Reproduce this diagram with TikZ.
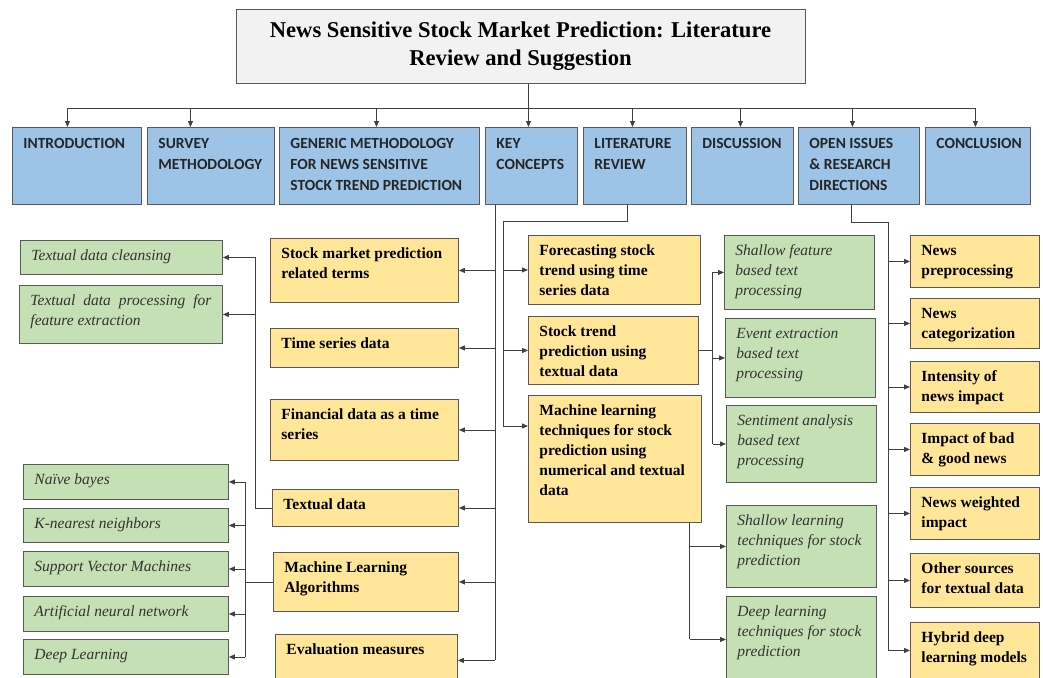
\documentclass[tikz,border=0pt]{standalone}
\usepackage{fontspec}
\setmainfont{Liberation Serif}
\newfontfamily\hdrfont{Carlito}
\usetikzlibrary{arrows.meta}

\definecolor{hdrBlue}{HTML}{9DC3E6}
\definecolor{topicYellow}{HTML}{FFE699}
\definecolor{leafGreen}{HTML}{C5E0B4}
\definecolor{titleGray}{HTML}{F2F2F2}
\definecolor{edgeGray}{HTML}{595959}
\definecolor{lineGray}{HTML}{404040}

% box content: width, height, text (top-left aligned)
\newcommand{\boxtext}[3]{\parbox[t][\dimexpr #2pt-12pt\relax][t]{\dimexpr #1pt-22pt\relax}{\raggedright\strut #3}}

\begin{document}
\begin{tikzpicture}[
  x=1pt, y=-1pt,
  box/.style={draw=edgeGray, line width=0.9pt, anchor=north west, inner xsep=11pt, inner ysep=6pt},
  titlebox/.style={draw=edgeGray, line width=1pt, fill=titleGray, minimum width=569pt, minimum height=73pt,
    align=center, font=\bfseries\fontsize{22.6}{28}\selectfont},
  header/.style={box, fill=hdrBlue, font=\hdrfont\bfseries\fontsize{15.5}{21}\selectfont, text=black!85},
  topic/.style={box, fill=topicYellow, font=\bfseries\fontsize{15.5}{20}\selectfont},
  leaf/.style={box, fill=leafGreen, font=\itshape\fontsize{15.5}{20}\selectfont, text=black!80},
  wire/.style={draw=lineGray, line width=0.9pt},
  link/.style={wire, -{Triangle[length=6pt,width=5pt]}}]

\clip (0,0) rectangle (1043,677);

\node[titlebox] (title) at (520.5,46.5) {News Sensitive Stock Market Prediction: Literature\\Review and Suggestion};

% Section headers
\node[header] (intro) at (12,127) {\boxtext{129}{77}{INTRODUCTION}};
\node[header] (survey) at (147,127) {\boxtext{127}{77}{SURVEY\\METHODOLOGY}};
\node[header] (generic) at (279,127) {\boxtext{200}{77}{GENERIC METHODOLOGY\\FOR NEWS SENSITIVE\\STOCK TREND PREDICTION}};
\node[header] (keyConcepts) at (485,127) {\boxtext{92}{77}{KEY\\CONCEPTS}};
\node[header] (litReview) at (583,127) {\boxtext{103}{77}{LITERATURE\\REVIEW}};
\node[header] (discussion) at (691,127) {\boxtext{102}{77}{DISCUSSION}};
\node[header] (openIssues) at (798,127) {\boxtext{121}{77}{OPEN ISSUES\\\& RESEARCH\\DIRECTIONS}};
\node[header] (conclusion) at (925,127) {\boxtext{105}{77}{CONCLUSION}};

% Key concepts
\node[topic] (smTerms) at (270,238) {\boxtext{188}{64}{Stock market prediction\\related terms}};
\node[topic] (timeSeries) at (270,328) {\boxtext{188}{39}{Time series data}};
\node[topic] (finData) at (270,399) {\boxtext{188}{61}{Financial data as a time\\series}};
\node[topic] (textualData) at (272,489) {\boxtext{186}{37}{Textual data}};
\node[topic] (mlAlgo) at (273,552) {\boxtext{185}{59}{Machine Learning\\Algorithms}};
\node[topic] (evalMeasures) at (275,634) {\boxtext{182}{52}{Evaluation measures}};

\node[leaf] (cleansing) at (20,240) {\boxtext{202}{34}{Textual data cleansing}};
\node[leaf] (processing) at (19,285) {\boxtext{203}{58}{\makebox[\linewidth][s]{Textual data processing for}\\feature extraction}};

\node[leaf] (naive) at (23,464) {\boxtext{205}{35}{Naïve bayes}};
\node[leaf] (knn) at (23,508) {\boxtext{205}{34}{K-nearest neighbors}};
\node[leaf] (svm) at (23,551) {\boxtext{205}{35}{Support Vector Machines}};
\node[leaf] (ann) at (23,596) {\boxtext{205}{35}{Artificial neural network}};
\node[leaf] (deepL) at (23,639) {\boxtext{205}{35}{Deep Learning}};

% Literature review
\node[topic] (forecasting) at (528,235) {\boxtext{172}{69}{Forecasting stock\\trend using time\\series data}};
\node[topic] (stockTextual) at (528,316) {\boxtext{170}{68}{Stock trend\\prediction using\\textual data}};
\node[topic] (mlTech) at (528,395) {\boxtext{173}{127}{Machine learning\\techniques for stock\\prediction using\\numerical and textual\\data}};

\node[leaf] (shallowFeat) at (724,235) {\boxtext{150}{74}{Shallow feature\\based text\\processing}};
\node[leaf] (eventExt) at (725,318) {\boxtext{150}{79}{Event extraction\\based text\\processing}};
\node[leaf] (sentiment) at (726,405) {\boxtext{150}{77}{Sentiment analysis\\based text\\processing}};
\node[leaf] (shallowLearn) at (726,505) {\boxtext{150}{82}{Shallow learning\\techniques for stock\\prediction}};
\node[leaf] (deepLearn) at (726,596) {\boxtext{150}{86}{Deep learning\\techniques for stock\\prediction}};

% Open issues
\node[topic] (newsPre) at (910,235) {\boxtext{129}{52}{News\\preprocessing}};
\node[topic] (newsCat) at (910,298) {\boxtext{129}{50}{News\\categorization}};
\node[topic] (intensity) at (910,361) {\boxtext{129}{51}{Intensity of\\news impact}};
\node[topic] (badGood) at (910,423) {\boxtext{129}{52}{Impact of bad\\\& good news}};
\node[topic] (weighted) at (910,487) {\boxtext{129}{52}{News weighted\\impact}};
\node[topic] (otherSrc) at (910,553) {\boxtext{129}{54}{Other sources\\for textual data}};
\node[topic] (hybrid) at (910,622) {\boxtext{129}{56}{Hybrid deep\\learning models}};

% Title to headers
\coordinate (bus) at (528,108);
\draw[wire] (title.south -| bus) -- (bus);
\foreach \name/\dx in {intro/-9.5, survey/-20.5, generic/-3, keyConcepts/-3, litReview/-2.5, discussion/-2, openIssues/-6.5, conclusion/-2.5}
{
  \coordinate (\name Arrow) at ([xshift=\dx pt]\name.north);
  \draw[link] (\name Arrow |- bus) -- (\name Arrow);
}
\draw[wire] (introArrow |- bus) -- (conclusionArrow |- bus);

% Key concepts branches
\coordinate (keyTrunk) at ([xshift=10pt]keyConcepts.south west);
\draw[wire] (keyTrunk) -- (keyTrunk |- evalMeasures.east);
\foreach \name in {smTerms, timeSeries, finData, textualData, mlAlgo, evalMeasures}
  \draw[link] (keyTrunk |- \name.east) -- (\name.east);

\coordinate (txtFork) at ([xshift=-17pt]textualData.west);
\draw[wire] (textualData.west) -- (txtFork) -- (txtFork |- cleansing.east);
\foreach \name in {cleansing, processing}
  \draw[link] (txtFork |- \name.east) -- (\name.east);

\coordinate (algoFork) at ([xshift=-28pt]mlAlgo.west);
\draw[wire] (mlAlgo.west) -- (algoFork);
\draw[wire] (algoFork |- naive.east) -- (algoFork |- deepL.east);
\foreach \name in {naive, knn, svm, ann, deepL}
  \draw[link] (algoFork |- \name.east) -- (\name.east);

% Literature review branches
\coordinate (litDrop) at ([xshift=-8pt]litReview.south);
\coordinate (litTrunk) at (503,221);
\coordinate (mlTechIn) at ([yshift=-31pt]mlTech.north west);
\draw[wire] (litDrop) |- (litTrunk) -- (litTrunk |- mlTechIn);
\draw[link] (litTrunk |- forecasting.west) -- (forecasting.west);
\draw[link] (litTrunk |- stockTextual.west) -- (stockTextual.west);
\draw[link] (litTrunk |- mlTechIn) -- (mlTechIn);

\coordinate (textFork) at ([xshift=14pt]stockTextual.east);
\draw[wire] (stockTextual.east) -- (textFork);
\draw[wire] (textFork |- shallowFeat.west) -- (textFork |- sentiment.west);
\foreach \name in {shallowFeat, eventExt, sentiment}
  \draw[link] (textFork |- \name.west) -- (\name.west);

\coordinate (mlFork) at ([xshift=-12pt]mlTech.south east);
\draw[wire] (mlFork) -- (mlFork |- deepLearn.west);
\foreach \name in {shallowLearn, deepLearn}
  \draw[link] (mlFork |- \name.west) -- (\name.west);

% Open issues branches
\coordinate (openDrop) at ([xshift=-8pt]openIssues.south);
\coordinate (openTrunk) at (888,222);
\draw[wire] (openDrop) |- (openTrunk) -- (openTrunk |- hybrid.west);
\foreach \name in {newsPre, newsCat, intensity, badGood, weighted, otherSrc, hybrid}
  \draw[link] (openTrunk |- \name.west) -- (\name.west);
\end{tikzpicture}
\end{document}
